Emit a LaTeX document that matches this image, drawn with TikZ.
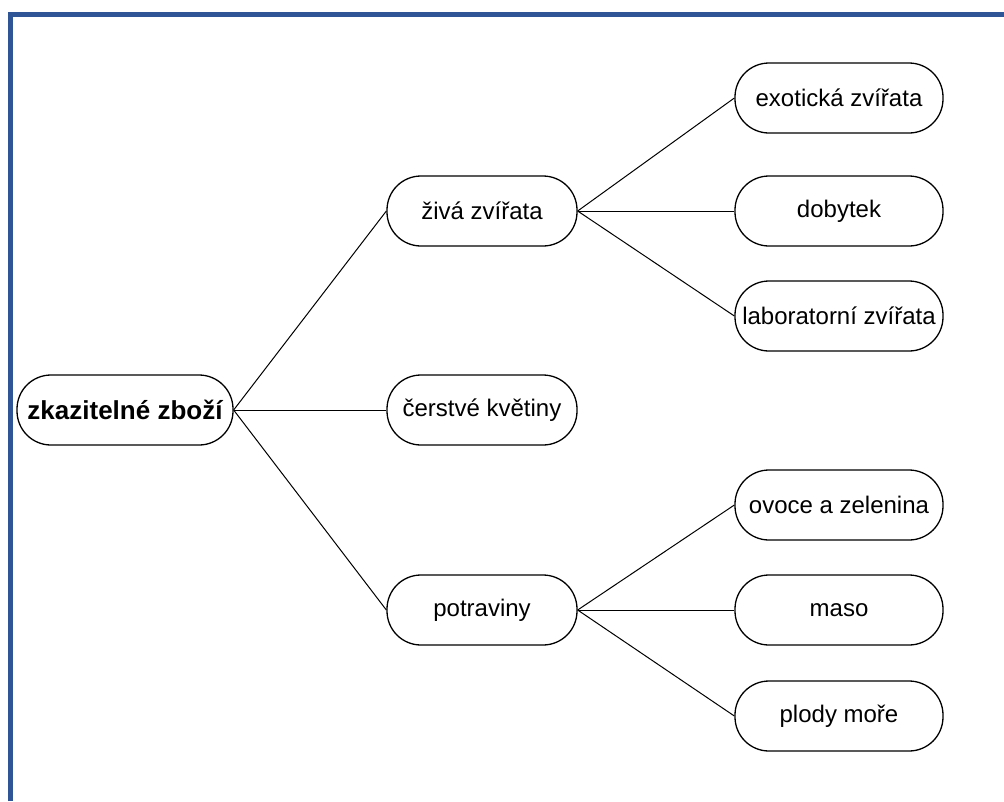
\documentclass[tikz,border=0pt]{standalone}
\usepackage{fontspec}
\setmainfont{Liberation Sans}
\definecolor{frameblue}{HTML}{2F5597}
\begin{document}
\begin{tikzpicture}[x=1pt,y=-1pt,
  pill/.style={draw=black,line width=1.3pt,rounded corners=34pt,minimum width=#1,minimum height=70pt,inner sep=0pt,font=\fontsize{24}{27}\selectfont},
  pill/.default=190pt,
  link/.style={draw=black,line width=1pt}]
\useasboundingbox (0,0) rectangle (1004,801);
\draw[frameblue,line width=5pt] (10,801) -- (10,14.5) -- (1004,14.5);
\node[pill=216pt,font=\bfseries\fontsize{26}{29}\selectfont] (root) at (125,410) {zkazitelné zboží};
\node[pill] (ziva) at (482,211) {živá zvířata};
\node[pill] (kvet) at (482,410) {čerstvé květiny};
\node[pill] (potr) at (482,610) {potraviny};
\node[pill=208pt] (exo) at (839,98) {exotická zvířata};
\node[pill=208pt] (dob) at (839,211) {dobytek};
\node[pill=208pt] (lab) at (839,316) {laboratorní zvířata};
\node[pill=208pt] (ovo) at (839,505) {ovoce a zelenina};
\node[pill=208pt] (maso) at (839,610) {maso};
\node[pill=208pt] (plody) at (839,716) {plody moře};
\foreach \t in {ziva,kvet,potr} \draw[link] (root.east) -- (\t.west);
\foreach \t in {exo,dob,lab} \draw[link] (ziva.east) -- (\t.west);
\foreach \t in {ovo,maso,plody} \draw[link] (potr.east) -- (\t.west);
\end{tikzpicture}
\end{document}
